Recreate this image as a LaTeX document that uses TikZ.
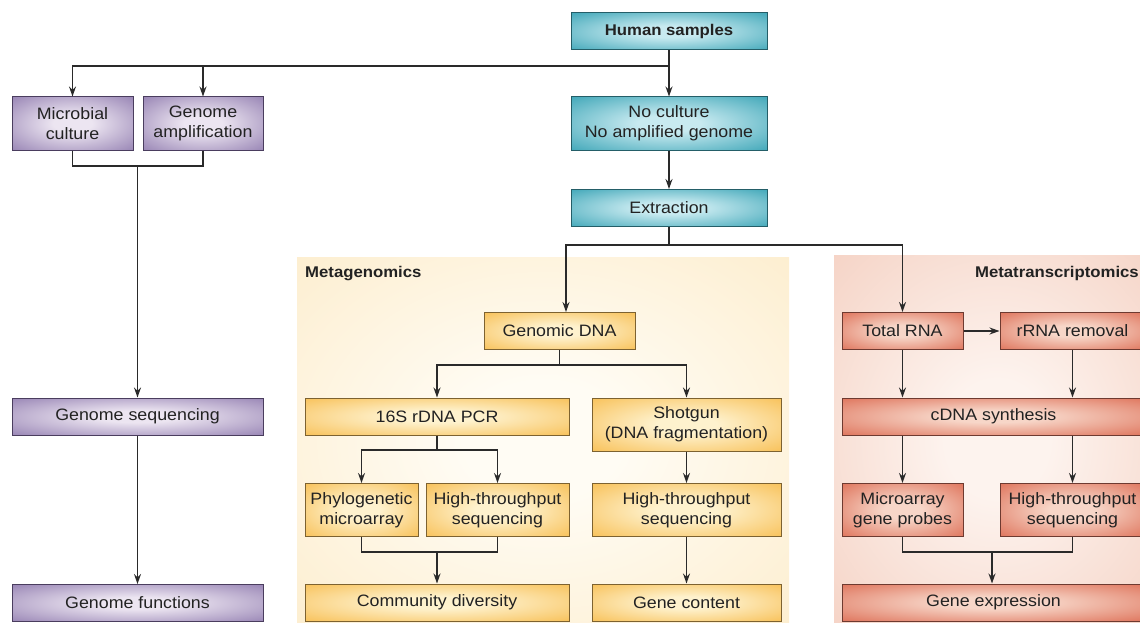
\documentclass[tikz,border=0pt]{standalone}
\usepackage{fontspec}
\setmainfont{Liberation Sans}[FakeStretch=1.08]
\usetikzlibrary{arrows.meta}

\definecolor{txt}{HTML}{222222}
\definecolor{wire}{HTML}{2A2A2A}
\definecolor{tealin}{HTML}{C8EAF0}
\definecolor{tealout}{HTML}{2E9EB1}
\definecolor{tealrim}{HTML}{245E68}
\definecolor{purpin}{HTML}{ECE5F1}
\definecolor{purpout}{HTML}{8C77AC}
\definecolor{purprim}{HTML}{4A3D5E}
\definecolor{yelin}{HTML}{FEF2CE}
\definecolor{yelout}{HTML}{F7BA48}
\definecolor{yelrim}{HTML}{7D6230}
\definecolor{redin}{HTML}{F7D6C8}
\definecolor{redout}{HTML}{DB664C}
\definecolor{redrim}{HTML}{6E3A30}
\definecolor{genoin}{HTML}{FFFCF4}
\definecolor{genoout}{HTML}{FCE8C0}
\definecolor{transin}{HTML}{FDF3EE}
\definecolor{transout}{HTML}{F2C6B5}

\pgfdeclareradialshading{tealglow}{\pgfpoint{0bp}{0bp}}{color(0bp)=(tealin); color(8bp)=(tealin); color(40bp)=(tealout); color(80bp)=(tealout)}
\pgfdeclareradialshading{purpglow}{\pgfpoint{0bp}{0bp}}{color(0bp)=(purpin); color(8bp)=(purpin); color(40bp)=(purpout); color(80bp)=(purpout)}
\pgfdeclareradialshading{yelglow}{\pgfpoint{0bp}{0bp}}{color(0bp)=(yelin); color(8bp)=(yelin); color(40bp)=(yelout); color(80bp)=(yelout)}
\pgfdeclareradialshading{redglow}{\pgfpoint{0bp}{0bp}}{color(0bp)=(redin); color(8bp)=(redin); color(40bp)=(redout); color(80bp)=(redout)}
\pgfdeclareradialshading{genoglow}{\pgfpoint{0bp}{0bp}}{color(0bp)=(genoin); color(8bp)=(genoin); color(48bp)=(genoout); color(80bp)=(genoout)}
\pgfdeclareradialshading{transglow}{\pgfpoint{0bp}{0bp}}{color(0bp)=(transin); color(8bp)=(transin); color(48bp)=(transout); color(80bp)=(transout)}

\begin{document}
\begin{tikzpicture}[x=1pt, y=-1pt,
	box/.style={rectangle, draw=#1rim, line width=1pt, shade, shading=#1glow,
		minimum height=37, inner sep=0, align=center, text=txt,
		font=\fontsize{16.5}{20}\selectfont},
	tall/.style={minimum height=53},
	lbl/.style={text=txt, font=\fontsize{15.5}{18}\selectfont\bfseries, inner sep=0},
	wire/.style={draw=wire, line width=1.3pt},
	>={Stealth[length=10pt, width=7pt]}]
	\useasboundingbox (0,0) rectangle (1140,623);

	% panels
	\shade[shading=genoglow] (297,257) rectangle (789,623);
	\shade[shading=transglow] (834,255) rectangle (1160,623);
	\node[lbl, anchor=west] (geno) at (305,273.5) {Metagenomics};
	\node[lbl, anchor=east] (trans) at (1139,273.5) {Metatranscriptomics};

	% top
	\node[box=teal, minimum width=196, font=\fontsize{15.5}{18}\selectfont\bfseries] (human) at (669,31.5) {Human samples};
	\node[box=teal, tall, minimum width=196] (nocult) at (669,123.5) {No culture\\No amplified genome};
	\node[box=teal, minimum width=196] (extract) at (669,208) {Extraction};

	% left column
	\node[box=purp, tall, minimum width=121] (microbe) at (72.5,123.5) {Microbial\\culture};
	\node[box=purp, tall, minimum width=120] (amplif) at (203,123.5) {Genome\\amplification};
	\node[box=purp, minimum width=251] (gseq) at (137.5,416.5) {Genome sequencing};
	\node[box=purp, minimum width=251] (gfunc) at (137.5,603) {Genome functions};

	% metagenomics
	\node[box=yel, minimum width=151] (gdna) at (559.5,331) {Genomic DNA};
	\node[box=yel, minimum width=264] (pcr) at (437,416.5) {16S rDNA PCR};
	\node[box=yel, tall, minimum width=189] (shotgun) at (686.5,424.5) {Shotgun\\(DNA fragmentation)};
	\node[box=yel, tall, minimum width=113] (phylo) at (361.5,510) {Phylogenetic\\microarray};
	\node[box=yel, tall, minimum width=143] (hts1) at (497.5,510) {High-throughput\\sequencing};
	\node[box=yel, tall, minimum width=189] (hts2) at (686.5,510) {High-throughput\\sequencing};
	\node[box=yel, minimum width=264] (divers) at (437,602.5) {Community diversity};
	\node[box=yel, minimum width=189] (content) at (686.5,602.5) {Gene content};

	% metatranscriptomics
	\node[box=red, minimum width=121] (totrna) at (902.5,331) {Total RNA};
	\node[box=red, minimum width=145] (rrna) at (1072.5,331) {rRNA removal};
	\node[box=red, minimum width=303] (cdna) at (993.5,416.5) {cDNA synthesis};
	\node[box=red, tall, minimum width=121] (probes) at (902.5,510) {Microarray\\gene probes};
	\node[box=red, tall, minimum width=145] (hts3) at (1072.5,510) {High-throughput\\sequencing};
	\node[box=red, minimum width=303] (express) at (993.5,602.5) {Gene expression};

	% junctions
	\coordinate (split1) at (669,66);
	\coordinate (split2) at (669,245);
	\coordinate (join1) at (137.5,166);
	\coordinate (split3) at (559.5,365);
	\coordinate (split4) at (437,450);
	\coordinate (join2) at (437,552);
	\coordinate (join3) at (992,552);

	% connectors
	\draw[wire] (human) -- (split1);
	\draw[wire, ->] (split1) -- (nocult);
	\draw[wire, ->] (split1) -| (microbe);
	\draw[wire, ->] (split1) -| (amplif);
	\draw[wire, ->] (nocult) -- (extract);
	\draw[wire] (extract) -- (split2);
	\draw[wire, ->] (split2) -| ([xshift=6.5]gdna.north);
	\draw[wire, ->] (split2) -| (totrna);

	\draw[wire] (microbe) |- (join1);
	\draw[wire] (amplif) |- (join1);
	\draw[wire, ->] (join1) -- (gseq);
	\draw[wire, ->] (gseq) -- (gfunc);

	\draw[wire] (gdna) -- (split3);
	\draw[wire, ->] (split3) -| (pcr);
	\draw[wire, ->] (split3) -| (shotgun);
	\draw[wire] (pcr) -- (split4);
	\draw[wire, ->] (split4) -| (phylo);
	\draw[wire, ->] (split4) -| (hts1);
	\draw[wire] (phylo) |- (join2);
	\draw[wire] (hts1) |- (join2);
	\draw[wire, ->] (join2) -- (divers);
	\draw[wire, ->] (shotgun) -- (hts2);
	\draw[wire, ->] (hts2) -- (content);

	\draw[wire, ->] (totrna) -- (rrna);
	\draw[wire, ->] (totrna) -- (totrna |- cdna.north);
	\draw[wire, ->] (rrna) -- (rrna |- cdna.north);
	\draw[wire, ->] (cdna.south -| probes) -- (probes);
	\draw[wire, ->] (cdna.south -| hts3) -- (hts3);
	\draw[wire] (probes) |- (join3);
	\draw[wire] (hts3) |- (join3);
	\draw[wire, ->] (join3) -- (join3 |- express.north);
\end{tikzpicture}
\end{document}
